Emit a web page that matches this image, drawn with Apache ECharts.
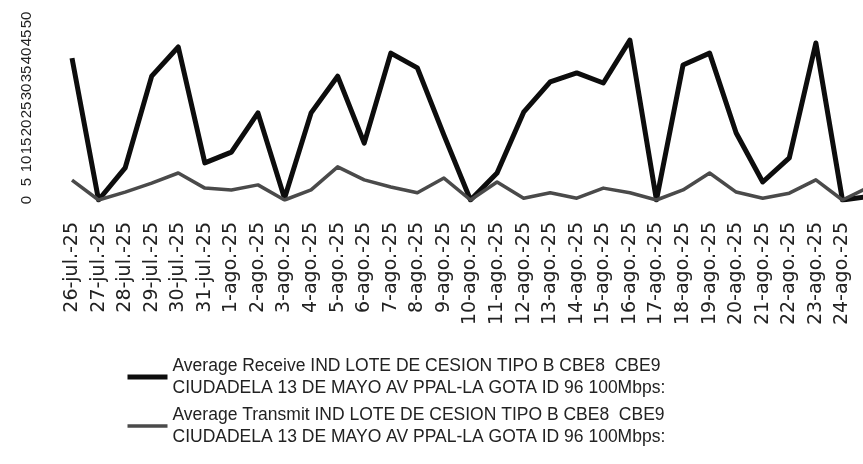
<!DOCTYPE html>
<html>
<head>
<meta charset="utf-8">
<script src="https://cdn.jsdelivr.net/npm/echarts@6/dist/echarts.min.js"></script>
<style>
	html,body{margin:0;padding:0;background:#fff;}
	#main{width:863px;height:464px;}
</style>
</head>
<body>
<div id="main"></div>
<script>
var days = ['26-jul.-25','27-jul.-25','28-jul.-25','29-jul.-25','30-jul.-25','31-jul.-25',
	'1-ago.-25','2-ago.-25','3-ago.-25','4-ago.-25','5-ago.-25','6-ago.-25','7-ago.-25','8-ago.-25',
	'9-ago.-25','10-ago.-25','11-ago.-25','12-ago.-25','13-ago.-25','14-ago.-25','15-ago.-25',
	'16-ago.-25','17-ago.-25','18-ago.-25','19-ago.-25','20-ago.-25','21-ago.-25','22-ago.-25',
	'23-ago.-25','24-ago.-25','25-ago.-25'];
var receive = [39.4, 0, 8.9, 34.4, 42.5, 10.3, 13.3, 24.2, 0.5, 24.2, 34.4, 15.8, 40.8, 36.7, 18,
	0, 7.5, 24.4, 32.8, 35.3, 32.5, 44.4, 0, 37.5, 40.8, 18.6, 5, 11.7, 43.6, 0, 1];
var transmit = [5.5, 0, 2.2, 4.7, 7.5, 3.3, 2.8, 4.2, 0, 2.8, 9.2, 5.6, 3.6, 2, 6.1,
	0, 5, 0.5, 2, 0.5, 3.3, 2, 0, 2.8, 7.5, 2.2, 0.5, 1.9, 5.6, 0, 3.6];
var yMin = 0, yMax = 50, yStep = 5;
var nameRx = 'Average Receive IND LOTE DE CESION TIPO B CBE8  CBE9\nCIUDADELA 13 DE MAYO AV PPAL-LA GOTA ID 96 100Mbps:';
var nameTx = 'Average Transmit IND LOTE DE CESION TIPO B CBE8  CBE9\nCIUDADELA 13 DE MAYO AV PPAL-LA GOTA ID 96 100Mbps:';

var myChart = echarts.init(document.getElementById('main'));
var option = {
	animation: false,
	backgroundColor: '#fff',
	// the last day sits just past the right edge, as in the cropped original
	grid: {left: 72, right: -6, top: 20, bottom: 264, outerBoundsMode: 'none', containLabel: false},
	legend: {
		orient: 'vertical',
		left: 125,
		top: 344,
		padding: 0,
		itemWidth: 40,
		itemHeight: 14,
		itemGap: -17,
		itemStyle: {opacity: 0},
		lineStyle: {width: 'inherit'},
		textStyle: {
			fontFamily: 'Liberation Sans',
			fontSize: 17.5,
			lineHeight: 22,
			color: '#222',
			padding: [22, 0, 0, 0] //keeps the icon on the first text line
		},
		data: [nameRx, nameTx]
	},
	xAxis: {
		type: 'category',
		boundaryGap: false,
		data: days,
		axisLine: {show: false},
		axisTick: {show: false},
		axisLabel: {
			rotate: 90,
			margin: 22,
			interval: function(i){ return i < days.length - 1; },
			fontFamily: 'DejaVu Sans',
			fontSize: 19,
			color: '#222'
		}
	},
	yAxis: {
		type: 'value',
		min: yMin,
		max: yMax,
		interval: yStep,
		axisLine: {show: false},
		axisTick: {show: false},
		splitLine: {show: false},
		axisLabel: {
			rotate: 90,
			margin: 38,
			fontFamily: 'Liberation Sans',
			fontSize: 15,
			color: '#222'
		}
	},
	series: [
		{
			name: nameRx,
			type: 'line',
			data: receive,
			symbol: 'none',
			color: '#0d0d0d',
			lineStyle: {width: 5, color: '#0d0d0d', join: 'round'}
		},
		{
			name: nameTx,
			type: 'line',
			data: transmit,
			symbol: 'none',
			color: '#4a4a4a',
			lineStyle: {width: 3.5, color: '#4a4a4a', join: 'round'}
		}
	]
};
myChart.setOption(option);
</script>
</body>
</html>
